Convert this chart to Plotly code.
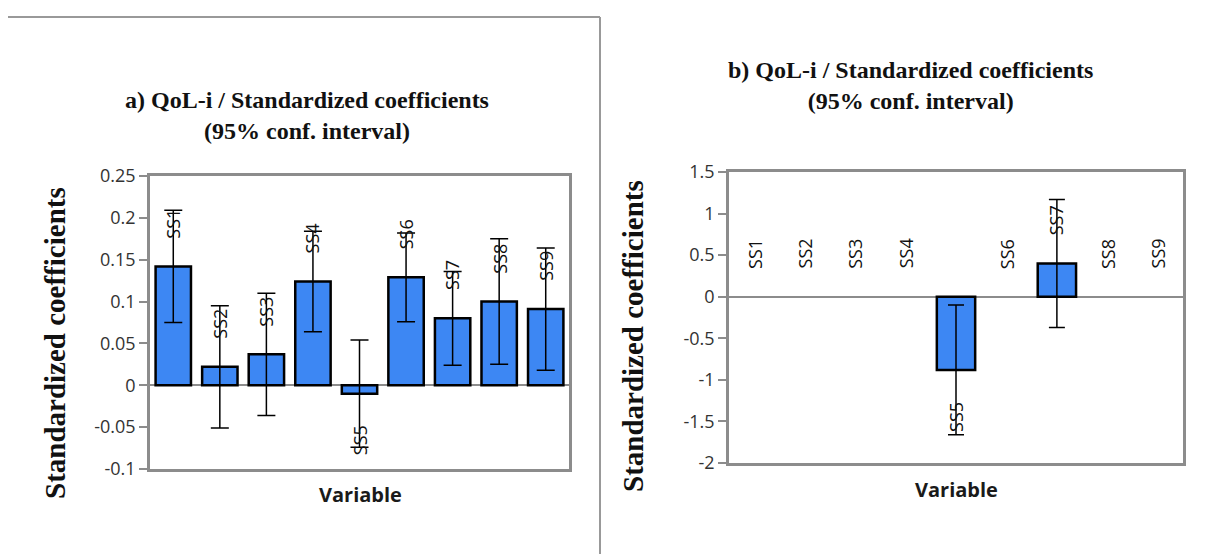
import plotly.graph_objects as go

# ---------------- data ----------------
categories = ["SS1", "SS2", "SS3", "SS4", "SS5", "SS6", "SS7", "SS8", "SS9"]

# panel a) standardized coefficients and half-width of 95% CI
a_coef = [0.142, 0.022, 0.037, 0.124, -0.010, 0.129, 0.080, 0.100, 0.091]
a_ci = [0.067, 0.073, 0.073, 0.060, 0.064, 0.053, 0.056, 0.075, 0.073]

# panel b)
b_coef = [0, 0, 0, 0, -0.88, 0, 0.40, 0, 0]
b_ci = [0, 0, 0, 0, 0.78, 0, 0.77, 0, 0]

a_tickvals = [0.25, 0.2, 0.15, 0.1, 0.05, 0, -0.05, -0.1]
a_ticktext = ["0.25", "0.2", "0.15", "0.1", "0.05", "0", "-0.05", "-0.1"]
b_tickvals = [1.5, 1, 0.5, 0, -0.5, -1, -1.5, -2]
b_ticktext = ["1.5", "1", "0.5", "0", "-0.5", "-1", "-1.5", "-2"]

title_a = "a) QoL-i / Standardized coefficients<br>(95% conf. interval)"
title_b = "b) QoL-i / Standardized coefficients<br>(95% conf. interval)"
ytitle = "Standardized coefficients"
xtitle = "Variable"

# ---------------- style ----------------
W, H = 1211, 554
BLUE = "#3d87f3"
GRAY = "#8c8c8c"
TICKFONT = dict(family="Open Sans", size=18, color="#333333")
LABELFONT = dict(family="Open Sans", size=18, color="#111111")
SERIF = "Liberation Serif"

fig = go.Figure()


def add_panel(coef, ci, xa, ya, capw):
    fig.add_trace(go.Bar(
        x=categories, y=coef, xaxis=xa, yaxis=ya,
        marker=dict(color=BLUE,
                    line=dict(color="black", width=[0 if v == 0 else 2.5 for v in coef])),
        width=0.76, showlegend=False, hoverinfo="x+y",
    ))
    idx = [i for i, e in enumerate(ci) if e > 0]
    fig.add_trace(go.Scatter(
        x=[categories[i] for i in idx], y=[coef[i] for i in idx],
        xaxis=xa, yaxis=ya, mode="markers",
        marker=dict(size=1, opacity=0),
        error_y=dict(type="data", array=[ci[i] for i in idx], symmetric=True,
                     color="black", thickness=1.5, width=capw),
        showlegend=False, hoverinfo="skip",
    ))
    for c, v in zip(categories, coef):
        fig.add_annotation(
            x=c, y=v, xref=xa, yref=ya, text=c, showarrow=False,
            textangle=-90, yshift=43 if v >= 0 else -47,
            font=LABELFONT,
        )


add_panel(a_coef, a_ci, "x", "y", 9)
add_panel(b_coef, b_ci, "x2", "y2", 8)

xcommon = dict(showticklabels=False, ticks="", showgrid=False, zeroline=False,
               showline=True, mirror=True, linecolor=GRAY, linewidth=2.5,
               range=[-0.5, 8.5], type="category", automargin=False)
ycommon = dict(showgrid=False, zeroline=True, zerolinecolor=GRAY, zerolinewidth=1.5,
               showline=True, mirror=True, linecolor=GRAY, linewidth=2.5,
               ticks="outside", ticklen=8, tickcolor=GRAY, tickwidth=1.5,
               tickfont=TICKFONT, tickmode="array", automargin=False)

fig.update_layout(
    width=W, height=H,
    margin=dict(l=0, r=0, t=0, b=0, pad=0, autoexpand=False),
    paper_bgcolor="white", plot_bgcolor="white",
    bargap=0.24,
    xaxis=dict(domain=[150 / W, 569 / W], anchor="y", **xcommon),
    yaxis=dict(domain=[(H - 469) / H, (H - 176) / H], anchor="x",
               range=[-0.1, 0.25], tickvals=a_tickvals, ticktext=a_ticktext, **ycommon),
    xaxis2=dict(domain=[729 / W, 1183 / W], anchor="y2", **xcommon),
    yaxis2=dict(domain=[(H - 463) / H, (H - 172) / H], anchor="x2",
                range=[-2, 1.5], tickvals=b_tickvals, ticktext=b_ticktext, **ycommon),
)

# titles and axis titles
fig.add_annotation(text=title_a, x=307 / W, y=1 - 116 / H, xref="paper", yref="paper",
                   showarrow=False, xanchor="center", yanchor="middle",
                   font=dict(family=SERIF, size=24, color="#111111", weight="bold"))
fig.add_annotation(text=title_b, x=910 / W, y=1 - 86 / H, xref="paper", yref="paper",
                   showarrow=False, xanchor="center", yanchor="middle",
                   font=dict(family=SERIF, size=24, color="#111111", weight="bold"))
for xp, yp in [(55, 343), (633, 336)]:
    fig.add_annotation(text=ytitle, x=xp / W, y=1 - yp / H, xref="paper", yref="paper",
                       showarrow=False, textangle=-90, xanchor="center", yanchor="middle",
                       font=dict(family=SERIF, size=29, color="#111111", weight="bold"))
for xp, yp in [(360, 494), (956, 489)]:
    fig.add_annotation(text=xtitle, x=xp / W, y=1 - yp / H,
                       xref="paper", yref="paper", showarrow=False,
                       xanchor="center", yanchor="middle",
                       font=dict(family="Open Sans", size=20, color="#1a1a1a", weight="bold"))

# outer frame of panel a
fig.add_shape(type="line", xref="paper", yref="paper", x0=8 / W, x1=600 / W,
              y0=1 - 17 / H, y1=1 - 17 / H, line=dict(color="#999999", width=2))
fig.add_shape(type="line", xref="paper", yref="paper", x0=600 / W, x1=600 / W,
              y0=1 - 17 / H, y1=0, line=dict(color="#999999", width=2))

fig.write_html("out.html", config={"displayModeBar": False},
               post_script="document.body.style.margin='0';document.body.style.overflow='hidden';")
